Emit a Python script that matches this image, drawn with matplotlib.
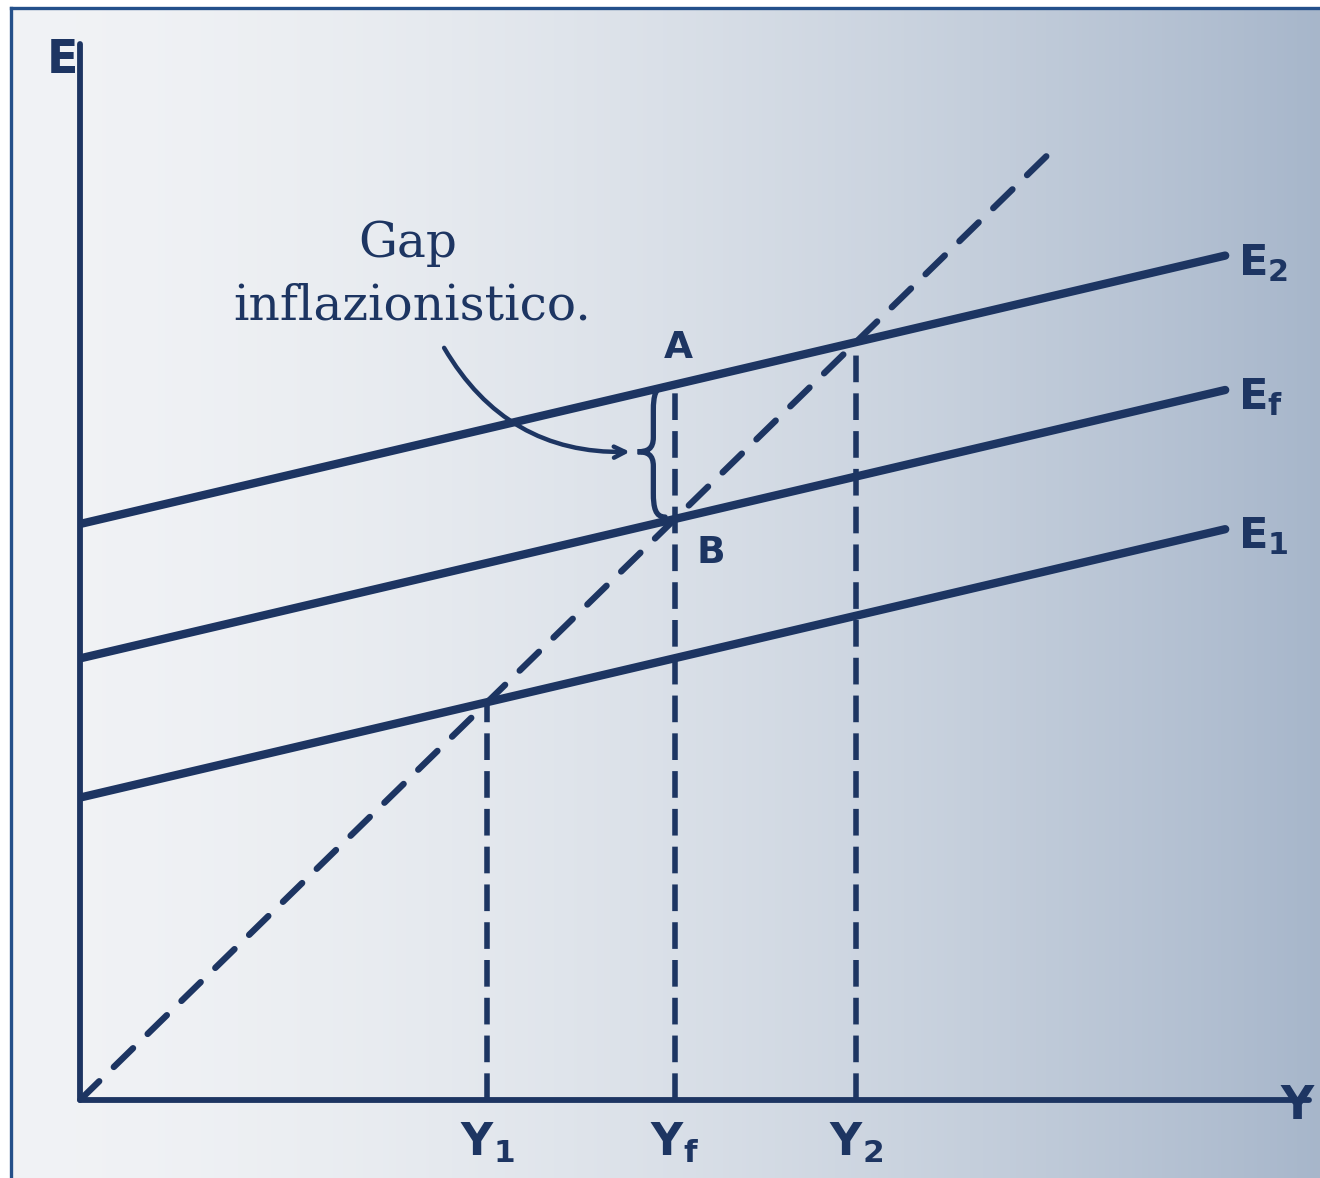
import numpy as np
import matplotlib.pyplot as plt
from matplotlib.path import Path
from matplotlib.patches import PathPatch

# rette della domanda aggregata E = a + b*Y
etichette_e = [r'$\mathbf{E_1}$', r'$\mathbf{E_f}$', r'$\mathbf{E_2}$']
intercette = [3.15, 4.6, 6.0]
pendenza = 0.24
# punti di equilibrio sull'asse Y
etichette_y = [r'$\mathbf{Y_1}$', r'$\mathbf{Y_f}$', r'$\mathbf{Y_2}$']
y_fine_rette = 11.65
y_fine_bisettrice = 9.95

blu = '#1d3562'
plt.rcParams['mathtext.fontset'] = 'dejavusans'

fig = plt.figure(figsize=(13.2, 11.78), dpi=100)

# sfondo: carta chiara a sinistra, più azzurrata a destra
sfondo = fig.add_axes([0, 0, 1, 1], zorder=-2)
t = np.linspace(0, 1, 400) ** 1.7
sx = np.array([0.945, 0.952, 0.962])
dx = np.array([0.655, 0.715, 0.795])
riga = sx[None, :] * (1 - t[:, None]) + dx[None, :] * t[:, None]
sfondo.imshow(riga[None, :, :], extent=[0, 1, 0, 1], aspect='auto')
sfondo.set_xlim(0, 1)
sfondo.set_ylim(0, 1)
sfondo.axis('off')
sfondo.fill_between([0, 1], 0.9932, 1, color='white')
sfondo.fill_between([0, 0.0083], 0, 1, color='white')
sfondo.plot([0.0083, 1], [0.9932, 0.9932], color='#24508a', lw=2.4)
sfondo.plot([0.0083, 0.0083], [0, 0.9932], color='#24508a', lw=2.4)

ax = fig.add_axes([80 / 1320, 78 / 1178, 12.6 * 98.3 / 1320, 11.2 * 96 / 1178])
ax.set_facecolor('none')
ax.set_xlim(0, 12.6)
ax.set_ylim(0, 11.2)
ax.set_xticks([])
ax.set_yticks([])
for lato in ['top', 'right']:
    ax.spines[lato].set_visible(False)
for lato in ['left', 'bottom']:
    ax.spines[lato].set_color(blu)
    ax.spines[lato].set_linewidth(4.2)
    ax.spines[lato].set_capstyle('round')
ax.spines['left'].set_bounds(0, 11.0)
ax.spines['bottom'].set_bounds(0, 12.5)

# bisettrice E = Y
ax.plot([0, y_fine_bisettrice], [0, y_fine_bisettrice], color=blu, lw=4.6,
        dashes=(4.2, 3.2), dash_capstyle='round', zorder=2)

# rette di spesa
xx = np.array([0, y_fine_rette])
for a, lab in zip(intercette, etichette_e):
    ax.plot(xx, a + pendenza * xx, color=blu, lw=6, solid_capstyle='round', zorder=3)
    ax.text(y_fine_rette + 0.13, a + pendenza * y_fine_rette - 0.2, lab, color=blu,
            fontsize=31, ha='left', va='baseline')

# equilibri e verticali tratteggiate
equilibri = [a / (1 - pendenza) for a in intercette]
y1, yf, y2 = equilibri
punto_a = intercette[2] + pendenza * yf
altezze = [y1, punto_a, y2]
for yv, h, lab in zip(equilibri, altezze, etichette_y):
    ax.plot([yv, yv], [0, h], color=blu, lw=4, dashes=(4.8, 2.0),
            dash_capstyle='butt', zorder=2)
    ax.text(yv, -0.22, lab, color=blu, fontsize=32, ha='center', va='top',
            clip_on=False)

ax.text(-0.18, 10.83, 'E', color=blu, fontsize=33, fontweight='bold',
        ha='center', va='center', clip_on=False)
ax.text(12.38, -0.07, 'Y', color=blu, fontsize=33, fontweight='bold',
        ha='center', va='center', clip_on=False)
ax.text(yf + 0.03, punto_a + 0.38, 'A', color=blu, fontsize=27, fontweight='bold',
        ha='center', va='center')
ax.text(yf + 0.36, intercette[1] + pendenza * yf - 0.35, 'B', color=blu,
        fontsize=27, fontweight='bold', ha='center', va='center')

# parentesi graffa tra A e B
top = punto_a - 0.02
bot = intercette[1] + pendenza * yf + 0.02
mid = (top + bot) / 2
xb = yf - 0.2
xt = yf - 0.38
verts = [(xb + 0.1, top), (xb, top), (xb - 0.02, top - 0.1), (xb - 0.02, top - 0.25),
         (xb - 0.02, mid + 0.15),
         (xb - 0.02, mid + 0.03), (xb - 0.08, mid), (xt, mid),
         (xb - 0.08, mid), (xb - 0.02, mid - 0.03), (xb - 0.02, mid - 0.15),
         (xb - 0.02, bot + 0.25),
         (xb - 0.02, bot + 0.1), (xb, bot), (xb + 0.1, bot)]
codes = [Path.MOVETO, Path.CURVE4, Path.CURVE4, Path.CURVE4,
         Path.LINETO,
         Path.CURVE4, Path.CURVE4, Path.CURVE4,
         Path.CURVE4, Path.CURVE4, Path.CURVE4,
         Path.LINETO,
         Path.CURVE4, Path.CURVE4, Path.CURVE4]
ax.add_patch(PathPatch(Path(verts, codes), facecolor='none', edgecolor=blu,
                       lw=3.8, capstyle='round', zorder=3))

# didascalia con freccia curva
serif = 'DejaVu Serif'
ax.text(3.33, 8.92, 'Gap', color=blu, fontsize=35, family=serif,
        ha='center', va='center')
ax.text(3.38, 8.27, 'inflazionistico.', color=blu, fontsize=35, family=serif,
        ha='center', va='center')
ax.annotate('', xy=(xt - 0.05, mid), xytext=(3.69, 7.86),
            arrowprops=dict(arrowstyle='->,head_length=0.8,head_width=0.4',
                            color=blu, lw=3.2,
                            connectionstyle='arc3,rad=0.3'))

fig.savefig('out.png', dpi=100)
